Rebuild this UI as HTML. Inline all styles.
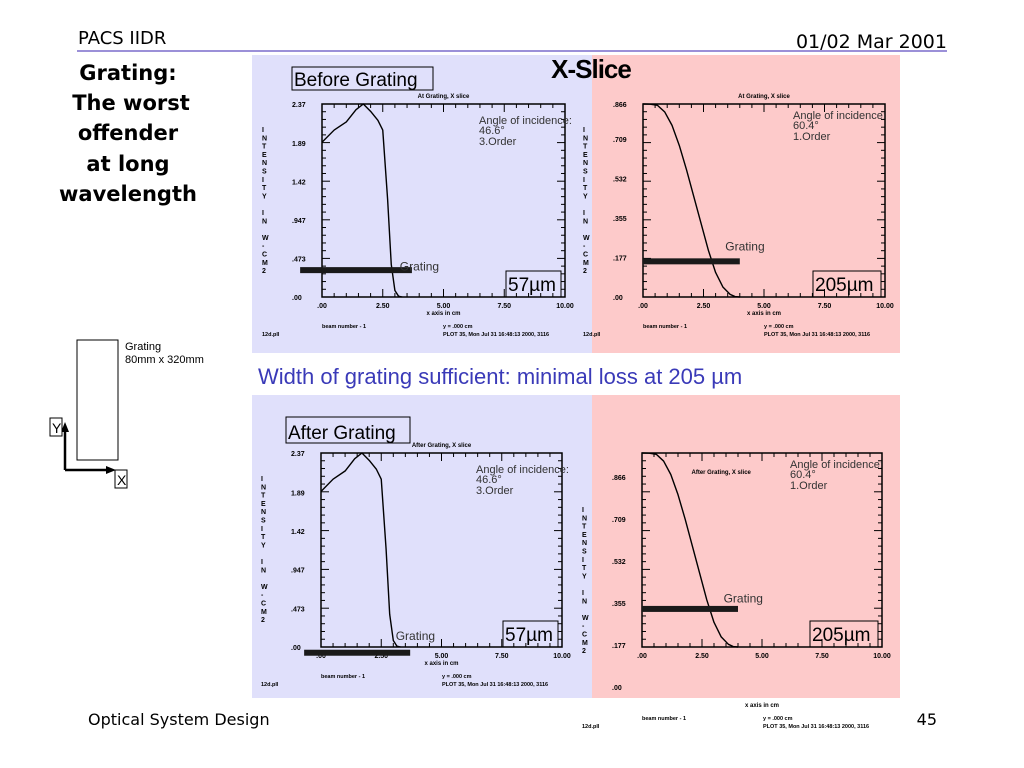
<!DOCTYPE html>
<html><head><meta charset="utf-8"><style>
body{margin:0;background:#fff;}
svg{display:block;font-family:"Liberation Sans",sans-serif;}
.v{font-family:"DejaVu Sans",sans-serif;}
</style></head><body>
<svg id="s" width="1024" height="768" viewBox="0 0 1024 768">
<line x1="77" y1="51" x2="947" y2="51" stroke="#7a6ccc" stroke-width="1.5"/>
<text class="v" x="78" y="44" font-size="18">PACS IIDR</text>
<text class="v" x="947" y="48" font-size="19" text-anchor="end">01/02 Mar 2001</text>
<g class="v" font-size="21" font-weight="bold" text-anchor="middle">
<text x="128" y="80">Grating:</text><text x="131" y="110">The worst</text><text x="128" y="140">offender</text><text x="128" y="171">at long</text><text x="128" y="201">wavelength</text></g>
<rect x="252" y="55" width="340" height="298" fill="#e0e0fb"/>
<rect x="592" y="55" width="308" height="298" fill="#fdcaca"/>
<rect x="252" y="395" width="340" height="303" fill="#e0e0fb"/>
<rect x="592" y="395" width="308" height="303" fill="#fdcaca"/>
<text x="591" y="78" font-size="26" font-weight="bold" text-anchor="middle" letter-spacing="-1">X-Slice</text>
<rect x="292" y="67" width="141" height="23" fill="none" stroke="#000"/>
<text x="294" y="86" font-size="19">Before Grating</text>
<rect x="286" y="417" width="124" height="26" fill="none" stroke="#000"/>
<text x="288" y="439" font-size="19">After Grating</text>
<text x="258" y="384" font-size="22" fill="#3a3ab8">Width of grating sufficient: minimal loss at 205 µm</text>
<rect x="77" y="340" width="41" height="120" fill="none" stroke="#000"/>
<text x="125" y="350" font-size="11">Grating</text>
<text x="125" y="363" font-size="11">80mm x 320mm</text>
<line x1="65" y1="470" x2="65" y2="428" stroke="#000" stroke-width="2.5"/>
<polygon points="65,422 61,432 69,432" fill="#000"/>
<line x1="65" y1="470" x2="110" y2="470" stroke="#000" stroke-width="2.5"/>
<polygon points="116,470 106,466 106,474" fill="#000"/>
<rect x="50" y="418" width="12" height="18" fill="#fff" stroke="#000"/><text x="52" y="433" font-size="14">Y</text>
<rect x="115" y="470" width="12" height="18" fill="#fff" stroke="#000"/><text x="117" y="485" font-size="14">X</text>
<text class="v" x="88" y="725" font-size="16">Optical System Design</text>
<text class="v" x="937" y="725" font-size="16" text-anchor="end">45</text>
<g id="plots"></g>
</svg>
<script>
// Plot data (x in cm, intensity)
const xTicks=[0,2.5,5,7.5,10];
const xTickLabels=[".00","2.50","5.00","7.50","10.00"];
const blueYTicks=[0,0.473,0.947,1.42,1.89,2.37];
const blueYLabels=[".00",".473",".947","1.42","1.89","2.37"];
const pinkYTicks=[0,0.177,0.355,0.532,0.709,0.866];
const pinkYLabels=[".00",".177",".355",".532",".709",".866"];
const blueX=[0,0.5,1.0,1.4,1.7,2.0,2.3,2.5,2.7,2.85,3.0,3.15,3.3];
const blueY=[1.90,2.05,2.15,2.30,2.37,2.28,2.17,2.05,1.2,0.4,0.08,0.01,0];
const pinkX=[0,0.3,0.6,0.9,1.2,1.5,1.8,2.1,2.4,2.7,3.0,3.3,3.6,3.8,4.0];
const pinkY=[0.866,0.865,0.86,0.83,0.77,0.68,0.57,0.45,0.33,0.21,0.11,0.045,0.012,0.002,0];
const NS="http://www.w3.org/2000/svg";
const root=document.getElementById('plots');
function mk(t,a,p){const e=document.createElementNS(NS,t);for(const k in a)e.setAttribute(k,a[k]);(p||root).appendChild(e);return e;}
const plots=[
 {name:'before-3rd-order',x0:322,x1:565,y0:297,y1:104,ymax:2.37,xs:blueX,ys:blueY,yt:blueYTicks,yl:blueYLabels,title:'At Grating, X slice',ang:'46.6°',ord:'3.Order',um:'57µm',bar:[-0.9,3.7,0.33],gl:[3.2,0.3]},
 {name:'before-1st-order',x0:643,x1:885,y0:297,y1:104,ymax:0.866,xs:pinkX,ys:pinkY,yt:pinkYTicks,yl:pinkYLabels,title:'At Grating, X slice',ang:'60.4°',ord:'1.Order',um:'205µm',bar:[0,4.0,0.16],gl:[3.4,0.2]},
 {name:'after-3rd-order',x0:321,x1:562,y0:647,y1:453,ymax:2.37,xs:blueX,ys:blueY,yt:blueYTicks,yl:blueYLabels,title:'After Grating, X slice',ang:'46.6°',ord:'3.Order',um:'57µm',bar:[-0.7,3.7,-0.07],gl:[3.1,0.06]},
 {name:'after-1st-order',x0:642,x1:882,y0:647,y1:453,ymax:0.866,xs:pinkX,ys:pinkY,yt:pinkYTicks,yl:pinkYLabels,title:'After Grating, X slice',ang:'60.4°',ord:'1.Order',um:'205µm',bar:[0,4.0,0.17],gl:[3.4,0.19],odd:true}
];
plots.forEach(p=>{
 const g=mk('g',{});
 
 
 const sx=v=>p.x0+(v/10)*(p.x1-p.x0), sy=v=>p.y0-(v/p.ymax)*(p.y0-p.y1);
 const fr=mk('rect',{x:p.x0,y:p.y1,width:p.x1-p.x0,height:p.y0-p.y1,fill:'none',stroke:'#000','stroke-width':1.5},g);
 
 
 for(let i=0;i<=20;i++){const x=p.x0+i*(p.x1-p.x0)/20,l=i%5==0?8:4;
  mk('line',{x1:x,y1:p.y0,x2:x,y2:p.y0-l,stroke:'#000'},g);mk('line',{x1:x,y1:p.y1,x2:x,y2:p.y1+l,stroke:'#000'},g);}
 for(let i=0;i<=25;i++){const y=p.y0-i*(p.y0-p.y1)/25,l=i%5==0?8:4;
  mk('line',{x1:p.x0,y1:y,x2:p.x0+l,y2:y,stroke:'#000'},g);mk('line',{x1:p.x1,y1:y,x2:p.x1-l,y2:y,stroke:'#000'},g);}
 xTicks.forEach((v,i)=>{const t=mk('text',{x:sx(v),y:p.y0+11,'font-size':7,'text-anchor':'middle','font-weight':'bold'},g);t.textContent=xTickLabels[i];
  });
 p.yt.forEach((v,i)=>{let y=sy(v)+3;if(p.odd)y=690-i*42;const t=mk('text',{x:p.x0-30,y:y,'font-size':7,'font-weight':'bold'},g);t.textContent=p.yl[i];
  });
 const tt=mk('text',{x:p.odd?sx(3.3):(p.x0+p.x1)/2,y:p.odd?p.y1+21:p.y1-6,'font-size':6,'font-weight':'bold','text-anchor':'middle'},g);tt.textContent=p.title;
 
 const ty=p.odd?512:p.y1+28;
 const yax=mk('text',{x:p.x0-62,y:ty,'font-size':7,'font-weight':'bold'},g);
 'INTENSITY IN W-CM2'.split('').forEach((c,i)=>{const s=mk('tspan',{x:p.x0-60,dy:i?8.3:0},yax);s.textContent=c==' '?'\u00a0':c;});
 
 const xl=mk('text',{x:(p.x0+p.x1)/2,y:p.odd?p.y0+60:p.y0+18,'font-size':6,'font-weight':'bold','text-anchor':'middle'},g);xl.textContent='x axis in cm';
 
 const fy=p.odd?p.y0+73:p.y0+31;
 [[p.x0,fy,'beam number - 1'],[p.x0+121,fy,'y =  .000    cm'],[p.x0+121,fy+8,'PLOT 35, Mon Jul 31 16:48:13 2000, 3116'],[p.x0-60,fy+8,'12d.pll']].forEach(a=>{const t=mk('text',{x:a[0],y:a[1],'font-size':5.5,'font-weight':'bold'},g);t.textContent=a[2];
  });
 const ln=mk('polyline',{points:p.xs.map((v,i)=>sx(v)+','+sy(p.ys[i])).join(' '),fill:'none',stroke:'#000','stroke-width':1.4,'stroke-linejoin':'round'},g);
 
 const b=mk('rect',{x:sx(p.bar[0]),y:sy(p.bar[2])-3,width:sx(p.bar[1])-sx(p.bar[0]),height:6,fill:'#1a1a1a'},g);
 
 const gl=mk('text',{x:sx(p.gl[0]),y:sy(p.gl[1])-2,'font-size':12,fill:'#333'},g);gl.textContent='Grating';
 
 const ax=p.x1-(p.ymax>1?86:92),ay=p.y1+(p.ymax>1?20:15);
 [['Angle of incidence:',0],[p.ang,10],[p.ord,21]].forEach(a=>{const t=mk('text',{x:ax,y:ay+a[1],'font-size':11,fill:'#333'},g);t.textContent=a[0];
  });
 const w=p.um.length>4?68:55;
 const br=mk('rect',{x:p.x1-w-4,y:p.y0-26,width:w,height:26,fill:'none',stroke:'#000'},g);
 
 const bt=mk('text',{x:p.x1-w-2,y:p.y0-6,'font-size':19},g);bt.textContent=p.um;
 
});
</script>
</body></html>
